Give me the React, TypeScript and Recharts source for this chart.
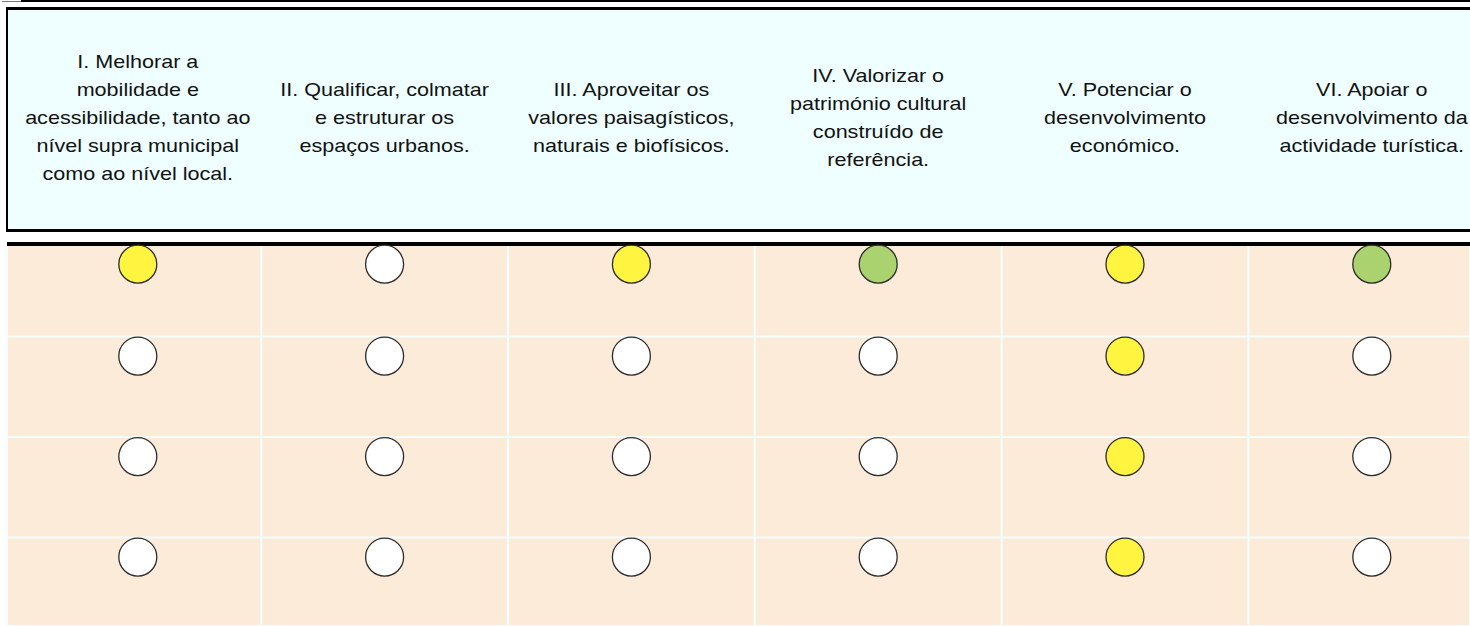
import { CartesianGrid, Scatter, ScatterChart, XAxis, YAxis } from "recharts";

// header labels of the six objectives, one entry per printed line
const objectives = [
  ["I. Melhorar a", "mobilidade e", "acessibilidade, tanto ao", "nível supra municipal", "como ao nível local."],
  ["II. Qualificar, colmatar", "e estruturar os", "espaços urbanos."],
  ["III. Aproveitar os", "valores paisagísticos,", "naturais e biofísicos."],
  ["IV. Valorizar o", "património cultural", "construído de", "referência."],
  ["V. Potenciar o", "desenvolvimento", "económico."],
  ["VI. Apoiar o", "desenvolvimento da", "actividade turística."]
];

// 0 = no relation, 1 = medium (yellow), 2 = strong (green)
const row1 = [1, 0, 1, 2, 1, 2];
const row2 = [0, 0, 0, 0, 1, 0];
const row3 = [0, 0, 0, 0, 1, 0];
const row4 = [0, 0, 0, 0, 1, 0];

const rows = [row1, row2, row3, row4];
const levelColors = ["#FFFFFF", "#FFF540", "#AAD26E"];

const W = 1470;
const H = 626;
const COL = 246.8; // px per column
const PLOT_LEFT = 7;
const GRID_START = 14.4;
const X_MIN = -(GRID_START - PLOT_LEFT) / COL;
const X_MAX = (W - GRID_START) / COL;
const ROW = 100.5;
const PLOT_TOP = 244;
const Y_MIN = 1 - (336.5 - PLOT_TOP) / ROW;
const Y_MAX = 1 + (H - 336.5) / ROW;

const rowY = (r: number) => Math.max(r + 0.195, 0.28);

const points = rows.flatMap((vals, r) =>
  vals.map((level, c) => ({ x: c + 0.5, y: rowY(r), level }))
);

function HeaderTick(props: any) {
  const { x, payload } = props;
  const lines = objectives[Math.floor(payload.value)] || [];
  const lh = 28;
  const first = 118 - ((lines.length - 1) * lh) / 2 + 6.5;
  return (
    <text
      x={x}
      y={first}
      textAnchor="middle"
      fontFamily="'Liberation Sans', Arial, sans-serif"
      fontSize={18.6}
      fill="#111"
      transform={`translate(${x},0) scale(1.16,1) translate(${-x},0)`}
    >
      {lines.map((l, i) => (
        <tspan key={i} x={x} y={first + i * lh}>
          {l}
        </tspan>
      ))}
    </text>
  );
}

function Dot(props: any) {
  const { cx, cy, payload } = props;
  return (
    <circle cx={cx} cy={cy} r={19} fill={levelColors[payload.level]} stroke="#2a2a2a" strokeWidth={1.3} />
  );
}

export default function App() {
  return (
    <div
      style={{
        position: "absolute",
        top: 0,
        left: 0,
        width: W,
        height: H,
        overflow: "hidden",
        background: "#fff"
      }}
    >
      <div style={{ position: "absolute", top: 0, left: 21, width: W, height: 2, background: "#000" }} />
      <div style={{ position: "absolute", top: 1, left: 2, width: 19, height: 1, background: "#777" }} />
      <div
        style={{
          position: "absolute",
          top: 7,
          left: 6,
          width: W + 40,
          height: 225,
          boxSizing: "border-box",
          background: "#EFFFFF",
          borderTop: "3px solid #000",
          borderLeft: "2px solid #000",
          borderBottom: "3px solid #000"
        }}
      />
      <div style={{ position: "absolute", top: 0, left: 0 }}>
        <ScatterChart width={W} height={H} margin={{ top: 0, right: 0, bottom: 0, left: 0 }}>
          <CartesianGrid
            xAxisId="grid"
            yAxisId="gridY"
            fill="#FDEBDA"
            fillOpacity={1}
            stroke="#F2FFFB"
            strokeWidth={2}
          />
          <XAxis
            xAxisId="head"
            type="number"
            dataKey="x"
            orientation="top"
            height={PLOT_TOP}
            domain={[X_MIN, X_MAX]}
            allowDataOverflow
            ticks={[0.5, 1.5, 2.5, 3.5, 4.5, 5.5]}
            interval={0}
            tick={<HeaderTick />}
            tickLine={false}
            axisLine={{ stroke: "#000", strokeWidth: 4 }}
          />
          <XAxis
            xAxisId="grid"
            type="number"
            dataKey="x"
            hide
            domain={[X_MIN, X_MAX]}
            allowDataOverflow
            ticks={[1, 2, 3, 4, 5]}
            interval={0}
          />
          <YAxis
            yAxisId="rows"
            type="number"
            dataKey="y"
            reversed
            width={PLOT_LEFT}
            domain={[Y_MIN, Y_MAX]}
            allowDataOverflow
            ticks={[1, 2, 3]}
            interval={0}
            tick={false}
            tickLine={false}
            axisLine={{ stroke: "#000", strokeWidth: 2 }}
          />
          <YAxis
            yAxisId="gridY"
            type="number"
            dataKey="y"
            reversed
            hide
            domain={[Y_MIN, Y_MAX]}
            allowDataOverflow
            ticks={[1, 2, 3]}
            interval={0}
          />
          <Scatter
            xAxisId="head"
            yAxisId="rows"
            data={points}
            shape={<Dot />}
            isAnimationActive={false}
          />
        </ScatterChart>
      </div>
    </div>
  );
}
